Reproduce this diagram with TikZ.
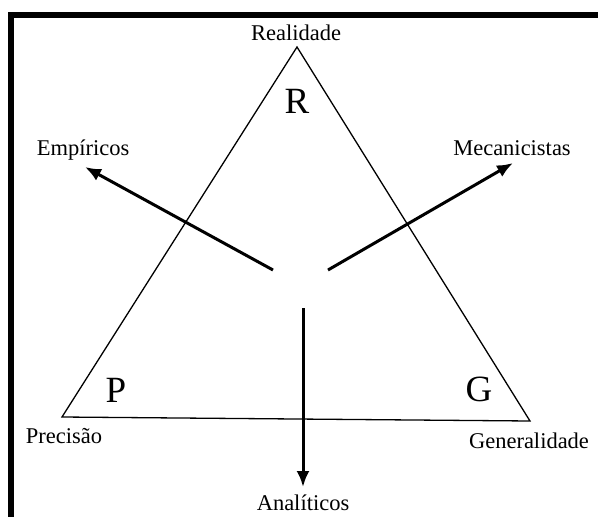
\documentclass[tikz,border=0pt]{standalone}
\usepackage{fontspec}
\setmainfont{Liberation Serif}
\usetikzlibrary{arrows.meta}
\tikzset{
  lbl/.style={inner sep=0pt, font=\fontsize{22.5}{24}\selectfont},
  big/.style={inner sep=0pt, font=\fontsize{37}{40}\selectfont},
  tri/.style={line width=1.3pt, line join=miter},
  arr/.style={line width=3pt, -{Latex[length=16pt,width=13pt]}},
  frame/.style={line width=6.5pt, line join=miter}
}
\begin{document}
\begin{tikzpicture}[x=1pt,y=-1pt]
\useasboundingbox (0,0) rectangle (598,517);
\clip (0,0) rectangle (598,517);
% frame
\draw[frame] (11,540) -- (11,15) -- (620,15);
% triangle
\coordinate (vR) at (297,47);
\coordinate (vP) at (62,417);
\coordinate (vG) at (530,421);
\draw[tri] (vR) -- (vP) -- (vG) -- cycle;
% corner labels
\node[lbl] (real) at (296,33) {Realidade};
\node[lbl] (prec) at (64,436) {Precisão};
\node[lbl] (gen) at (529,441) {Generalidade};
\node[big] (R) at (297,101) {R};
\node[big] (P) at (116,390) {P};
\node[big] (G) at (479,389) {G};
% arrows
\node[lbl] (emp) at (83,150) {Empíricos};
\node[lbl] (mec) at (512,148) {Mecanicistas};
\node[lbl] (ana) at (303,503) {Analíticos};
\coordinate (sE) at (273,270);
\coordinate (tE) at (85,167);
\coordinate (sM) at (328,270);
\coordinate (tM) at (513,163);
\coordinate (sA) at (303,308);
\coordinate (tA) at (303,487);
\draw[arr] (sE) -- (tE);
\draw[arr] (sM) -- (tM);
\draw[arr] (sA) -- (tA);
\end{tikzpicture}
\end{document}
